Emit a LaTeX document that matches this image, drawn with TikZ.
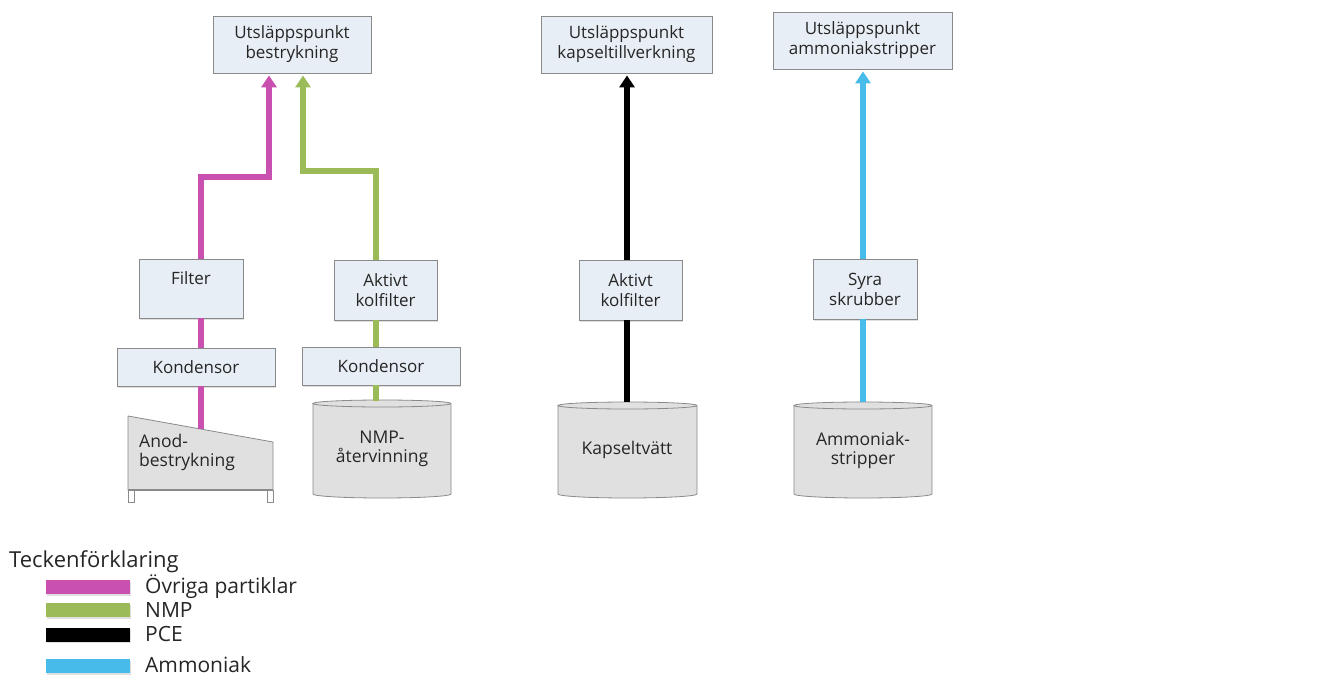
\documentclass[tikz,border=0pt]{standalone}
\usepackage{fontspec}
\setmainfont{Open Sans}
\usetikzlibrary{arrows.meta,shadows,calc}
\definecolor{boxfill}{HTML}{E8EEF5}
\definecolor{boxline}{HTML}{8A8A8A}
\definecolor{cylfill}{HTML}{E0E0E0}
\definecolor{pinkc}{HTML}{C94FB1}
\definecolor{greenc}{HTML}{9BBB59}
\definecolor{bluec}{HTML}{47BCEA}
\definecolor{txt}{HTML}{262626}
\newcommand\mycyl[5]{% left, right, top, bottom, x radius (pt)
  \fill[cylfill] (#1,#3) -- (#4) arc[start angle=180,end angle=360,x radius=#5,y radius=4pt] -- (#2,#3) arc[start angle=0,end angle=180,x radius=#5,y radius=3.5pt] -- cycle;
  \draw[boxline, line width=0.8pt] (#1,#3) -- (#4) arc[start angle=180,end angle=360,x radius=#5,y radius=4pt] -- (#2,#3) arc[start angle=0,end angle=180,x radius=#5,y radius=3.5pt] arc[start angle=180,end angle=360,x radius=#5,y radius=3.5pt];
}
\begin{document}
\begin{tikzpicture}[x=1pt,y=-1pt,
  box/.style={draw=boxline, line width=0.8pt, fill=boxfill, align=center, inner sep=0pt,
    font=\fontsize{17}{20}\selectfont, text=txt,
    drop shadow={opacity=0.25, shadow xshift=1.2pt, shadow yshift=-1.5pt}},
  cyltxt/.style={align=center, inner sep=0pt, font=\fontsize{17.5}{19}\selectfont, text=txt},
  flow/.style={line width=5.5pt},
  arr/.style={flow, -{Triangle[length=12pt,width=15pt]}, shorten >=2pt},
  legbar/.style={minimum width=84pt, minimum height=14pt, inner sep=0pt,
    drop shadow={opacity=0.25, shadow xshift=1pt, shadow yshift=-1.5pt}},
  legtxt/.style={anchor=west, inner sep=0pt, font=\fontsize{21}{24}\selectfont, text=txt},
 ]
\fill[white] (0,0) rectangle (1331,677);
\useasboundingbox (0,0) rectangle (1331,677);

% top boxes
\node[box, minimum width=158pt, minimum height=57pt] (topA) at (292,44.5) {Utsläppspunkt\\bestrykning};
\node[box, minimum width=171pt, minimum height=57pt] (topB) at (626.5,44.5) {Utsläppspunkt\\kapseltillverkning};
\node[box, minimum width=179pt, minimum height=57pt] (topC) at (862.5,40.5) {Utsläppspunkt\\ammoniakstripper};

% treatment boxes
\node[box, minimum width=104pt, minimum height=59pt] (filter) at (191,288.5) {Filter\\\mbox{}};
\node[box, minimum width=103pt, minimum height=60pt] (kolA) at (385.5,290) {Aktivt\\kolfilter};
\node[box, minimum width=158pt, minimum height=38pt] (kondL) at (196,367) {Kondensor};
\node[box, minimum width=158pt, minimum height=38pt] (kondR) at (381,366) {Kondensor};
\node[box, minimum width=103pt, minimum height=60pt] (kolB) at (630.5,290) {Aktivt\\kolfilter};
\node[box, minimum width=104pt, minimum height=60pt] (syra) at (865,289) {Syra\\skrubber};

% anode coating machine
\fill[cylfill] (128,416) -- (273,442) -- (273,490) -- (128,490) -- cycle;
\draw[boxline, line width=0.8pt] (128,416) -- (273,442) -- (273,490) -- (128,490) -- cycle;
\draw[boxline, line width=0.8pt, fill=white] (128,490) rectangle (134,502);
\draw[boxline, line width=0.8pt, fill=white] (267,490) rectangle (273,502);
\draw[boxline, line width=1.4pt] (128,490) -- (273,490);
\node[cyltxt, align=left, anchor=west] (anod) at (139,452.5) {Anod-\\bestrykning};
\coordinate (anodtop) at (201,429);

% cylinders
\mycyl{313}{451}{403.5}{313,494}{69pt}
\node[cyltxt, minimum width=138pt, minimum height=98pt] (nmp) at (382,449) {NMP-\\återvinning};
\mycyl{558}{697}{405.5}{558,494}{69.5pt}
\node[cyltxt, minimum width=139pt, minimum height=96pt] (kapsel) at (627,450) {Kapseltvätt};
\mycyl{794}{932}{405.5}{794,494}{69pt}
\node[cyltxt, minimum width=138pt, minimum height=96pt] (ammon) at (863,450) {Ammoniak-\\stripper};

% pink flow
\coordinate (pk) at (269,177);
\draw[flow, pinkc] (anodtop) -- (anodtop |- kondL.south);
\draw[flow, pinkc] (kondL.north -| anodtop) -- (filter.south -| anodtop);
\draw[arr, pinkc] (filter.north -| anodtop) |- (pk) -- (pk |- topA.south);

% green flow
\coordinate (nmptop) at (376,401);
\coordinate (gk) at (303,171);
\draw[flow, greenc] (nmptop) -- (nmptop |- kondR.south);
\draw[flow, greenc] (kondR.north -| nmptop) -- (kolA.south -| nmptop);
\draw[arr, greenc] (kolA.north -| nmptop) |- (gk) -- (gk |- topA.south);

% black flow
\draw[flow, black] (kapsel.north) -- (kapsel.north |- kolB.south);
\draw[arr, black] (kapsel.north |- kolB.north) -- (kapsel.north |- topB.south);

% blue flow
\draw[flow, bluec] (ammon.north) -- (ammon.north |- syra.south);
\draw[arr, bluec] (ammon.north |- syra.north) -- (ammon.north |- topC.south);

% legend
\node[anchor=west, inner sep=0pt, font=\fontsize{22}{26}\selectfont, text=txt] (legtitle) at (9,562) {Teckenförklaring};
\node[legbar, fill=pinkc] (lp) at (88,587) {};
\node[legbar, fill=greenc] (lg) at (88,610) {};
\node[legbar, fill=black] (lk) at (88,634.5) {};
\node[legbar, fill=bluec] (lb) at (88,666) {};
\node[legtxt] (lpt) at (145,587) {Övriga partiklar};
\node[legtxt] (lgt) at (145,610) {NMP};
\node[legtxt] (lkt) at (145,634) {PCE};
\node[legtxt] (lbt) at (145,664.5) {Ammoniak};
\end{tikzpicture}
\end{document}
